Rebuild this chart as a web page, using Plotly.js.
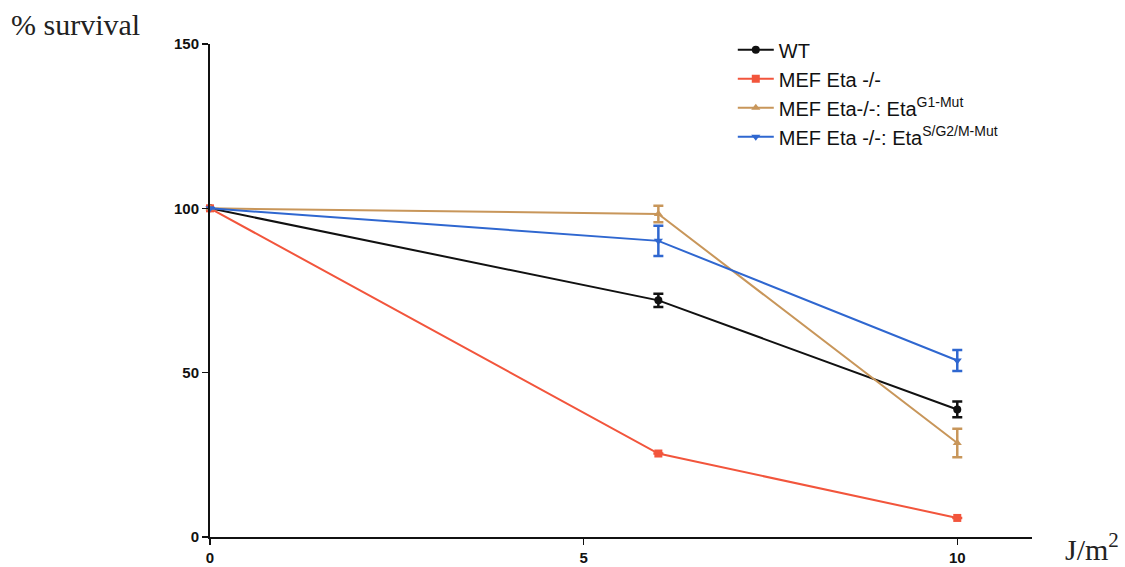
<!DOCTYPE html>
<html>
<head>
<meta charset="utf-8">
<script src="https://cdn.plot.ly/plotly-3.0.1.min.js"></script>
<style>html,body{margin:0;padding:0;background:#fff;}#chart{width:1125px;height:567px;}</style>
</head>
<body>
<div id="chart"></div>
<script>
const doses = [0, 6, 10];
const seriesNames = ["WT", "MEF Eta -/-", "MEF Eta-/-: Eta<sup>G1-Mut</sup>", "MEF Eta -/-: Eta<sup>S/G2/M-Mut</sup>"];
const wt = [100, 72, 38.8];
const wtErr = [0, 2, 2.4];
const mef = [100, 25.4, 5.8];
const mefErr = [0, 0, 0];
const g1 = [100, 98.3, 28.6];
const g1Err = [0, 2.5, 4.3];
const sg2m = [100, 90.1, 53.7];
const sg2mErr = [0, 4.6, 3.2];
const xTicks = [0, 5, 10];
const yTicks = [0, 50, 100, 150];

const colors = ["#111111", "#f2553c", "#c8965a", "#2f67d0"];
const symbols = ["circle", "square", "triangle-up", "triangle-down"];
const ys = [wt, mef, g1, sg2m];
const errs = [wtErr, mefErr, g1Err, sg2mErr];

const traces = ys.map((y, i) => ({
  x: doses, y: y, name: seriesNames[i], type: "scatter", mode: "lines+markers",
  line: {color: colors[i], width: 2},
  marker: {color: colors[i], symbol: symbols[i], size: 8},
  error_y: {type: "data", array: errs[i], visible: true, color: colors[i], thickness: 2.5, width: 5},
  cliponaxis: false
}));

const tickFont = {family: "Liberation Sans, Arial, sans-serif", size: 15, color: "#111", weight: "bold"};

const layout = {
  width: 1125, height: 567,
  margin: {l: 210, r: 93, t: 44, b: 30},
  paper_bgcolor: "#fff", plot_bgcolor: "#fff",
  showlegend: true,
  legend: {x: 0.636, y: 1.028, xanchor: "left", yanchor: "top", bgcolor: "rgba(0,0,0,0)", itemwidth: 36,
    font: {family: "Liberation Sans, Arial, sans-serif", size: 20, color: "#111"}, tracegroupgap: 4},
  xaxis: {range: [0, 11], tickvals: xTicks, ticktext: xTicks.map(String), showgrid: false, zeroline: false,
    showline: true, linecolor: "#111", linewidth: 2, ticks: "outside", ticklen: 6, tickwidth: 1.5, tickcolor: "#111",
    tickfont: tickFont},
  yaxis: {range: [0, 150], tickvals: yTicks, ticktext: yTicks.map(String), showgrid: false, zeroline: false,
    showline: true, linecolor: "#111", linewidth: 2, ticks: "outside", ticklen: 6, tickwidth: 1.5, tickcolor: "#111",
    tickfont: tickFont},
  annotations: [
    {text: "% survival", xref: "paper", yref: "paper", x: -0.245, y: 1.04, xanchor: "left", yanchor: "middle",
     showarrow: false, font: {family: "Liberation Serif, Times New Roman, serif", size: 30, color: "#222"}},
    {text: "J/m<sup>2</sup>", xref: "paper", yref: "paper", x: 1.038, y: -0.02, xanchor: "left", yanchor: "middle",
     showarrow: false, font: {family: "Liberation Serif, Times New Roman, serif", size: 30, color: "#222"}}
  ]
};

Plotly.newPlot("chart", traces, layout, {displayModeBar: false, staticPlot: true});
</script>
</body>
</html>
